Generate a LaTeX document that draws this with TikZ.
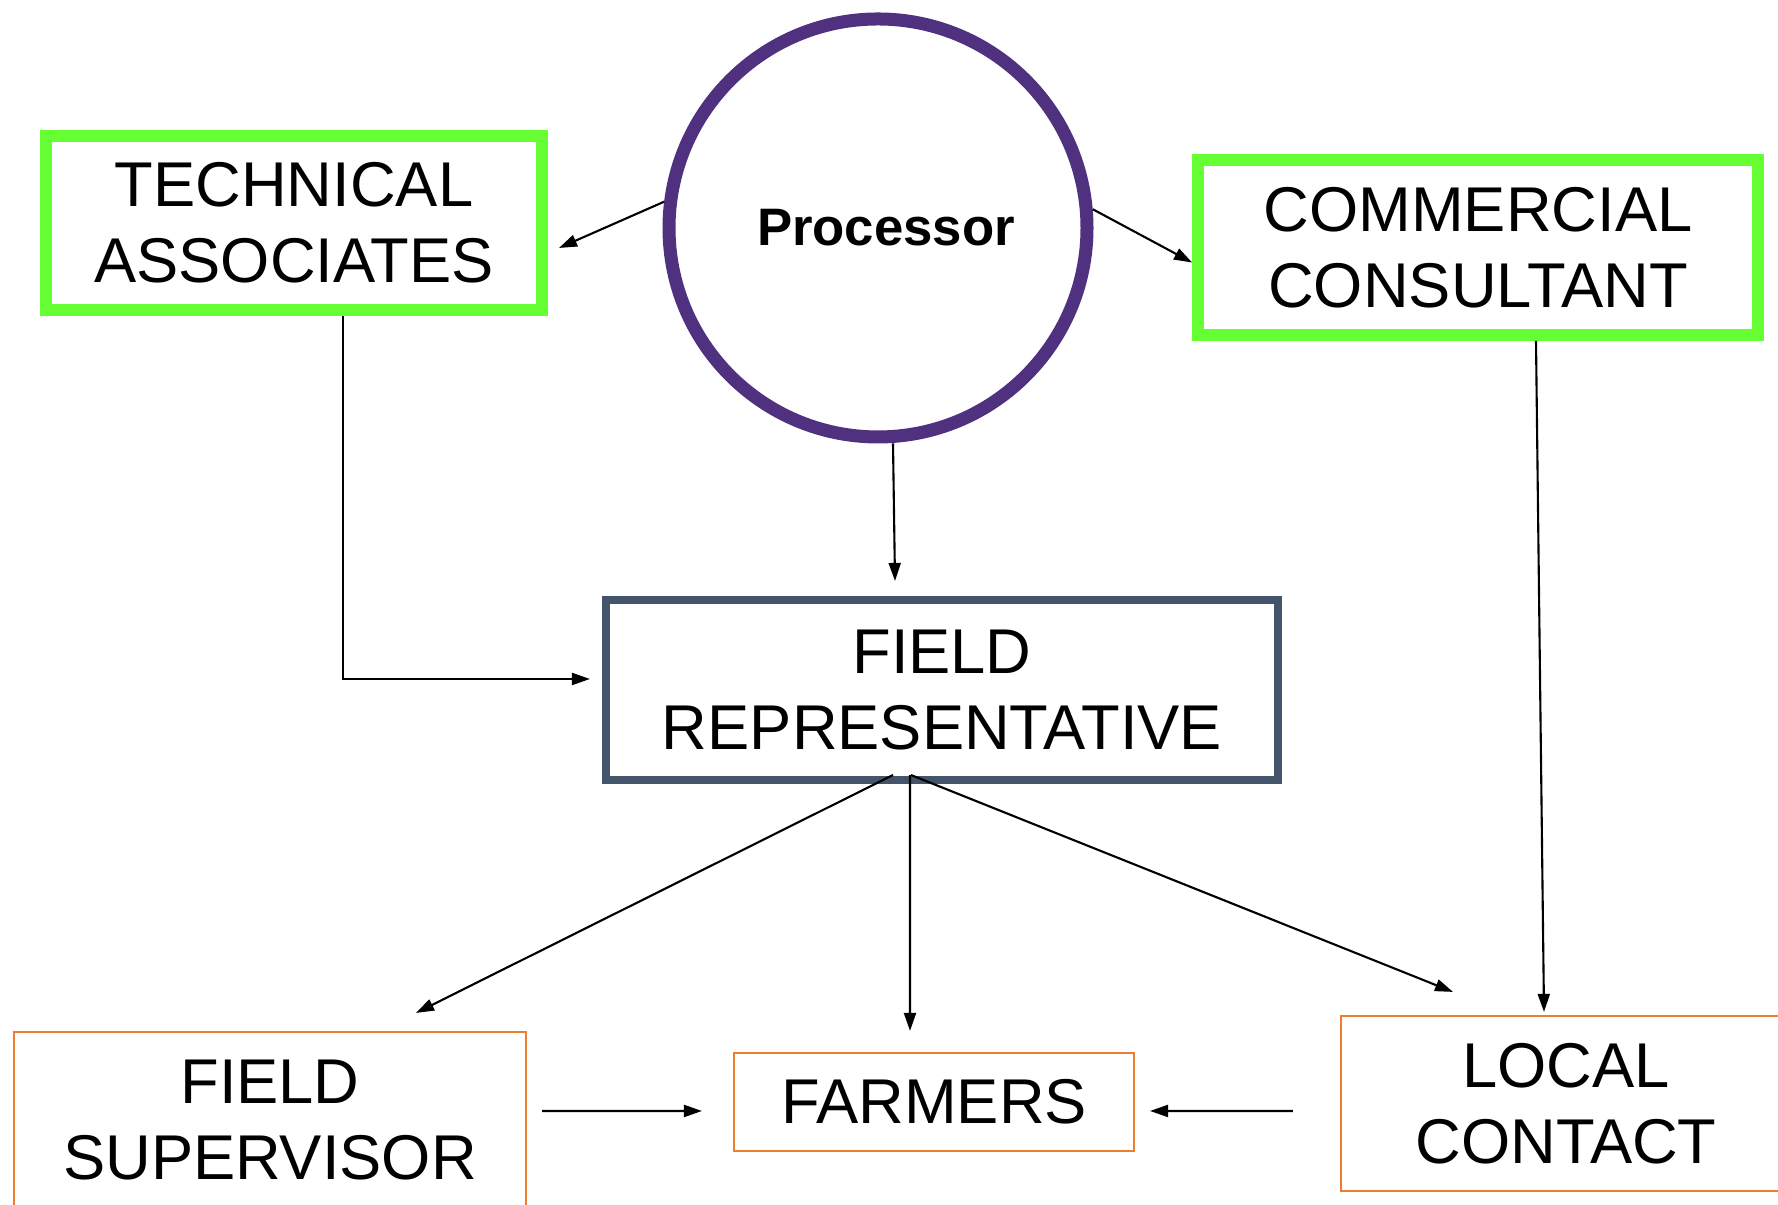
\documentclass[tikz,border=0pt]{standalone}
\usepackage{fontspec}
\setmainfont{Liberation Sans}
\usetikzlibrary{arrows.meta}
\definecolor{ChartGreen}{HTML}{66FF33}
\definecolor{ChartPurple}{HTML}{4F3180}
\definecolor{ChartSlate}{HTML}{44546A}
\definecolor{ChartOrange}{HTML}{ED7D31}
\tikzset{
  chart/box/.style={
    draw, fill=white, inner sep=0pt, align=center,
    font=\fontsize{18}{21.6}\selectfont
  },
  chart/partner/.style={chart/box, draw=ChartGreen, line width=3.4pt},
  chart/hub/.style={chart/box, draw=ChartSlate, line width=2.3pt},
  chart/field/.style={chart/box, draw=ChartOrange, line width=.6pt},
  chart/head/.style={
    circle, draw=ChartPurple, fill=white, line width=3.7pt,
    minimum size=4.18cm, inner sep=0pt,
    font=\fontsize{15}{18}\selectfont\bfseries
  },
  chart/arrow/.style={
    -{Triangle[length=1.8mm,width=1.2mm]}, line width=.6pt, draw=black
  }
}

\begin{document}
\begin{tikzpicture}
  \useasboundingbox (0,0) rectangle (17.78,12.05);
  \node[chart/head] (proc) at (8.78,9.77) {\hspace*{1.6mm}Processor};
  \node[chart/partner,minimum width=4.96cm,minimum height=1.74cm] (tech)
    at (2.94,9.82) {TECHNICAL\\ASSOCIATES};
  \node[chart/partner,minimum width=5.60cm,minimum height=1.75cm] (comm)
    at (14.78,9.575) {COMMERCIAL\\CONSULTANT};
  \node[chart/hub,minimum width=6.72cm,minimum height=1.80cm] (rep)
    at (9.42,5.15) {FIELD\\REPRESENTATIVE};
  \node[chart/field,minimum width=5.12cm,minimum height=1.76cm] (sup)
    at (2.70,0.85) {FIELD\\SUPERVISOR};
  \node[chart/field,minimum width=4.00cm,minimum height=0.98cm] (farm)
    at (9.34,1.03) {FARMERS};
  \node[chart/field,minimum width=4.50cm,minimum height=1.75cm] (local)
    at (15.66,1.015) {LOCAL\\CONTACT};
  % processor to its three contacts
  \draw[chart/arrow] (proc.173) -- ([xshift=1.1mm,yshift=-2.5mm]tech.east);
  \draw[chart/arrow] (proc.5) -- ([yshift=-1.5mm]comm.west);
  \draw[chart/arrow] ([xshift=1.5mm]proc.south)
    -- ([xshift=-4.7mm,yshift=1.5mm]rep.north);
  % side branches
  \draw[chart/arrow] ([xshift=4.9mm]tech.south)
    |- ([xshift=-1.2mm,yshift=1.1mm]rep.west);
  \draw[chart/arrow] ([xshift=5.8mm]comm.south)
    -- ([xshift=-2.2mm,yshift=0.3mm]local.north);
  % field representative fans out
  \draw[chart/arrow] ([xshift=-4.9mm,yshift=0.9mm]rep.south)
    -- ([xshift=14.6mm,yshift=1.8mm]sup.north);
  \draw[chart/arrow] ([xshift=-3.2mm,yshift=0.9mm]rep.south)
    -- ([xshift=-2.4mm,yshift=2.1mm]farm.north);
  \draw[chart/arrow] ([xshift=-3.1mm,yshift=0.9mm]rep.south)
    -- ([xshift=-11.3mm,yshift=2.3mm]local.north);
  % into the farmers
  \draw[chart/arrow] ([xshift=1.5mm,yshift=0.9mm]sup.east)
    -- ([xshift=-3.1mm,yshift=-0.9mm]farm.west);
  \draw[chart/arrow] ([xshift=-4.7mm,yshift=-0.75mm]local.west)
    -- ([xshift=1.5mm,yshift=-0.9mm]farm.east);
\end{tikzpicture}
\end{document}
